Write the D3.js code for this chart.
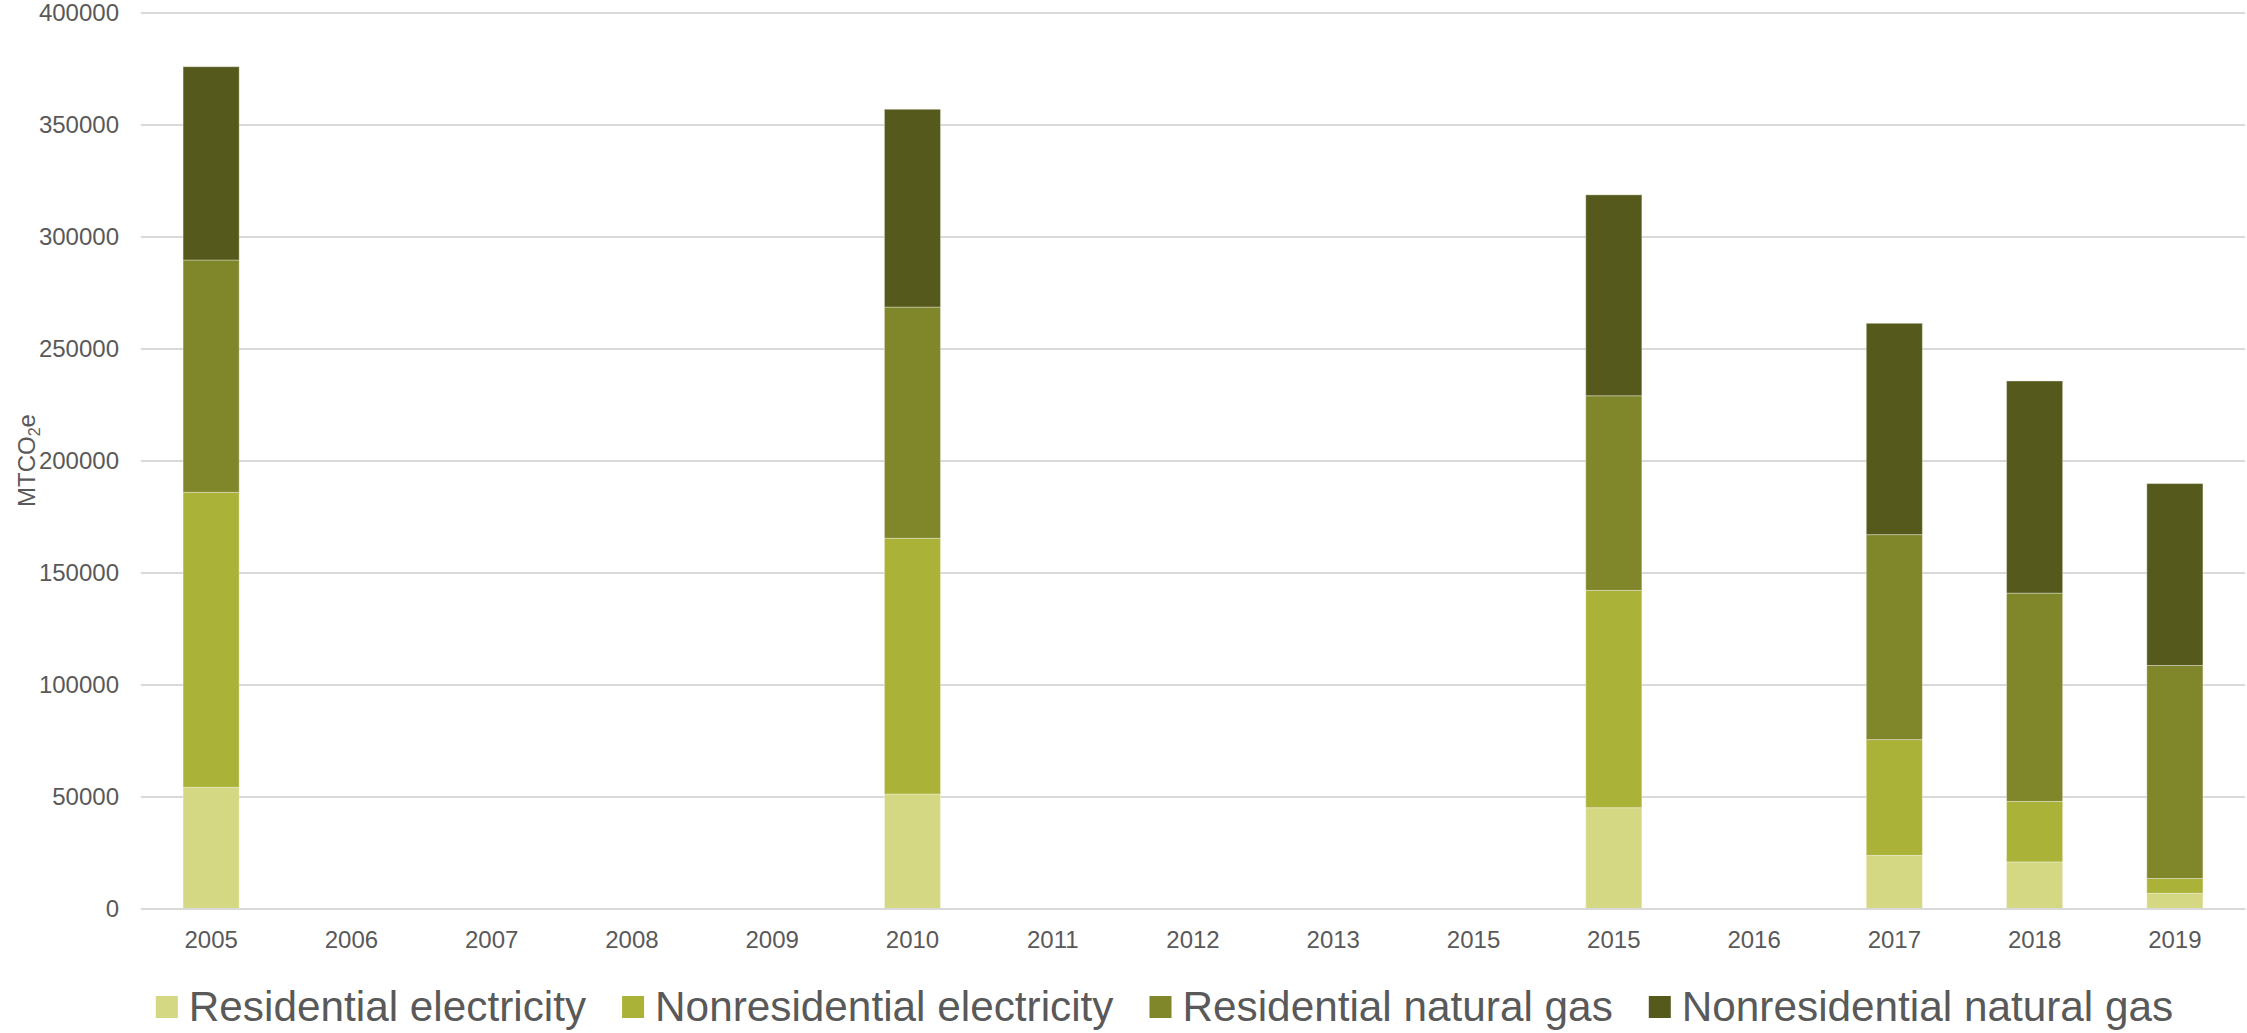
<!DOCTYPE html>
<html>
<head>
<meta charset="utf-8">
<script src="https://cdn.jsdelivr.net/npm/d3@7"></script>
<style>
  html, body { margin: 0; padding: 0; background: #fff; }
  svg { display: block; font-family: Arial, 'Liberation Sans', sans-serif; }
</style>
</head>
<body>
<svg width="2247" height="1033"></svg>
<script>
// years as printed on the axis (2015 appears twice in the source)
const categories = ['2005', '2006', '2007', '2008', '2009', '2010', '2011', '2012', '2013', '2015', '2015', '2016', '2017', '2018', '2019']

const residentialElectricity    = [54100, 0, 0, 0, 0, 51100, 0, 0, 0, 0, 45000, 0, 23700, 20800, 6800]
const nonresidentialElectricity = [131700, 0, 0, 0, 0, 114200, 0, 0, 0, 0, 97000, 0, 51700, 27000, 6600]
const residentialNaturalGas     = [103700, 0, 0, 0, 0, 103200, 0, 0, 0, 0, 86900, 0, 91500, 93000, 95100]
const nonresidentialNaturalGas  = [86300, 0, 0, 0, 0, 88300, 0, 0, 0, 0, 89700, 0, 94350, 94700, 81200]

const seriesNames = ['Residential electricity', 'Nonresidential electricity', 'Residential natural gas', 'Nonresidential natural gas']
const seriesColors = ['#d4d882', '#abb238', '#80862a', '#555a1c']
const yTicks = [0, 50000, 100000, 150000, 200000, 250000, 300000, 350000, 400000]

const margin = { top: 12.5, right: 2, bottom: 124.5, left: 141 }
const width = 2247, height = 1033
const textColor = '#595959'
const gridColor = '#d9d9d9'

const svg = d3.select('svg')

const rows = categories.map((c, i) => ({
  key: i,
  label: c,
  [seriesNames[0]]: residentialElectricity[i],
  [seriesNames[1]]: nonresidentialElectricity[i],
  [seriesNames[2]]: residentialNaturalGas[i],
  [seriesNames[3]]: nonresidentialNaturalGas[i],
}))

const stacked = d3.stack().keys(seriesNames)(rows)

const x = d3.scaleBand()
  .domain(rows.map(d => d.key))
  .range([margin.left, width - margin.right])
  .paddingInner(0.6)
  .paddingOuter(0.3)

const y = d3.scaleLinear()
  .domain([0, 400000])
  .range([height - margin.bottom, margin.top])

const color = d3.scaleOrdinal().domain(seriesNames).range(seriesColors)

// gridlines + y labels
const yAxis = svg.append('g')
  .attr('transform', `translate(${ margin.left }, 0)`)
  .call(d3.axisLeft(y).tickValues(yTicks).tickSize(-(width - margin.left - margin.right)).tickPadding(22).tickFormat(d3.format('d')))
yAxis.select('.domain').remove()
yAxis.selectAll('line').attr('stroke', gridColor).attr('stroke-width', 2)
yAxis.selectAll('text').attr('fill', textColor).attr('font-size', 24)

// bars
svg.append('g').selectAll('g.series')
  .data(stacked)
  .join('g')
  .classed('series', true)
  .attr('fill', d => color(d.key))
  .selectAll('rect')
  .data(d => d.filter(s => s[1] - s[0] > 0))
  .join('rect')
  .attr('x', d => x(d.data.key))
  .attr('width', x.bandwidth())
  .attr('y', d => y(d[1]))
  .attr('height', d => y(d[0]) - y(d[1]))
  .attr('stroke', '#fff')
  .attr('stroke-opacity', 0.35)
  .attr('stroke-width', 1)

// x axis
const xAxis = svg.append('g')
  .attr('transform', `translate(0, ${ y(0) })`)
  .call(d3.axisBottom(x).tickSize(0).tickPadding(22).tickFormat(i => categories[i]))
xAxis.select('.domain').attr('stroke', gridColor).attr('stroke-width', 2)
xAxis.selectAll('text').attr('fill', textColor).attr('font-size', 24)

// y title
const title = svg.append('text')
  .attr('transform', `translate(35, ${ (y(0) + y(400000)) / 2 }) rotate(-90)`)
  .attr('text-anchor', 'middle')
  .attr('fill', textColor)
  .attr('font-size', 24)
title.append('tspan').text('MTCO')
title.append('tspan').text('2').attr('font-size', 16).attr('dy', 5)
title.append('tspan').text('e').attr('dy', -5)

// legend
const legend = svg.append('g').classed('legend', true)
const items = legend.selectAll('g.item')
  .data(seriesNames)
  .join('g')
  .classed('item', true)

items.append('rect')
  .attr('width', 22).attr('height', 22)
  .attr('y', -24.5)
  .attr('fill', d => color(d))

items.append('text')
  .attr('x', 33)
  .attr('fill', textColor)
  .attr('font-size', 42.3)
  .text(d => d)

let offset = 0
const widths = []
items.each(function () {
  widths.push(33 + d3.select(this).select('text').node().getComputedTextLength())
})
const gap = 36
const total = d3.sum(widths) + gap * (widths.length - 1)
const startX = 1164.5 - total / 2
items.attr('transform', (d, i) => {
  const t = `translate(${ startX + offset }, 1020.5)`
  offset += widths[i] + gap
  return t
})
</script>
</body>
</html>
